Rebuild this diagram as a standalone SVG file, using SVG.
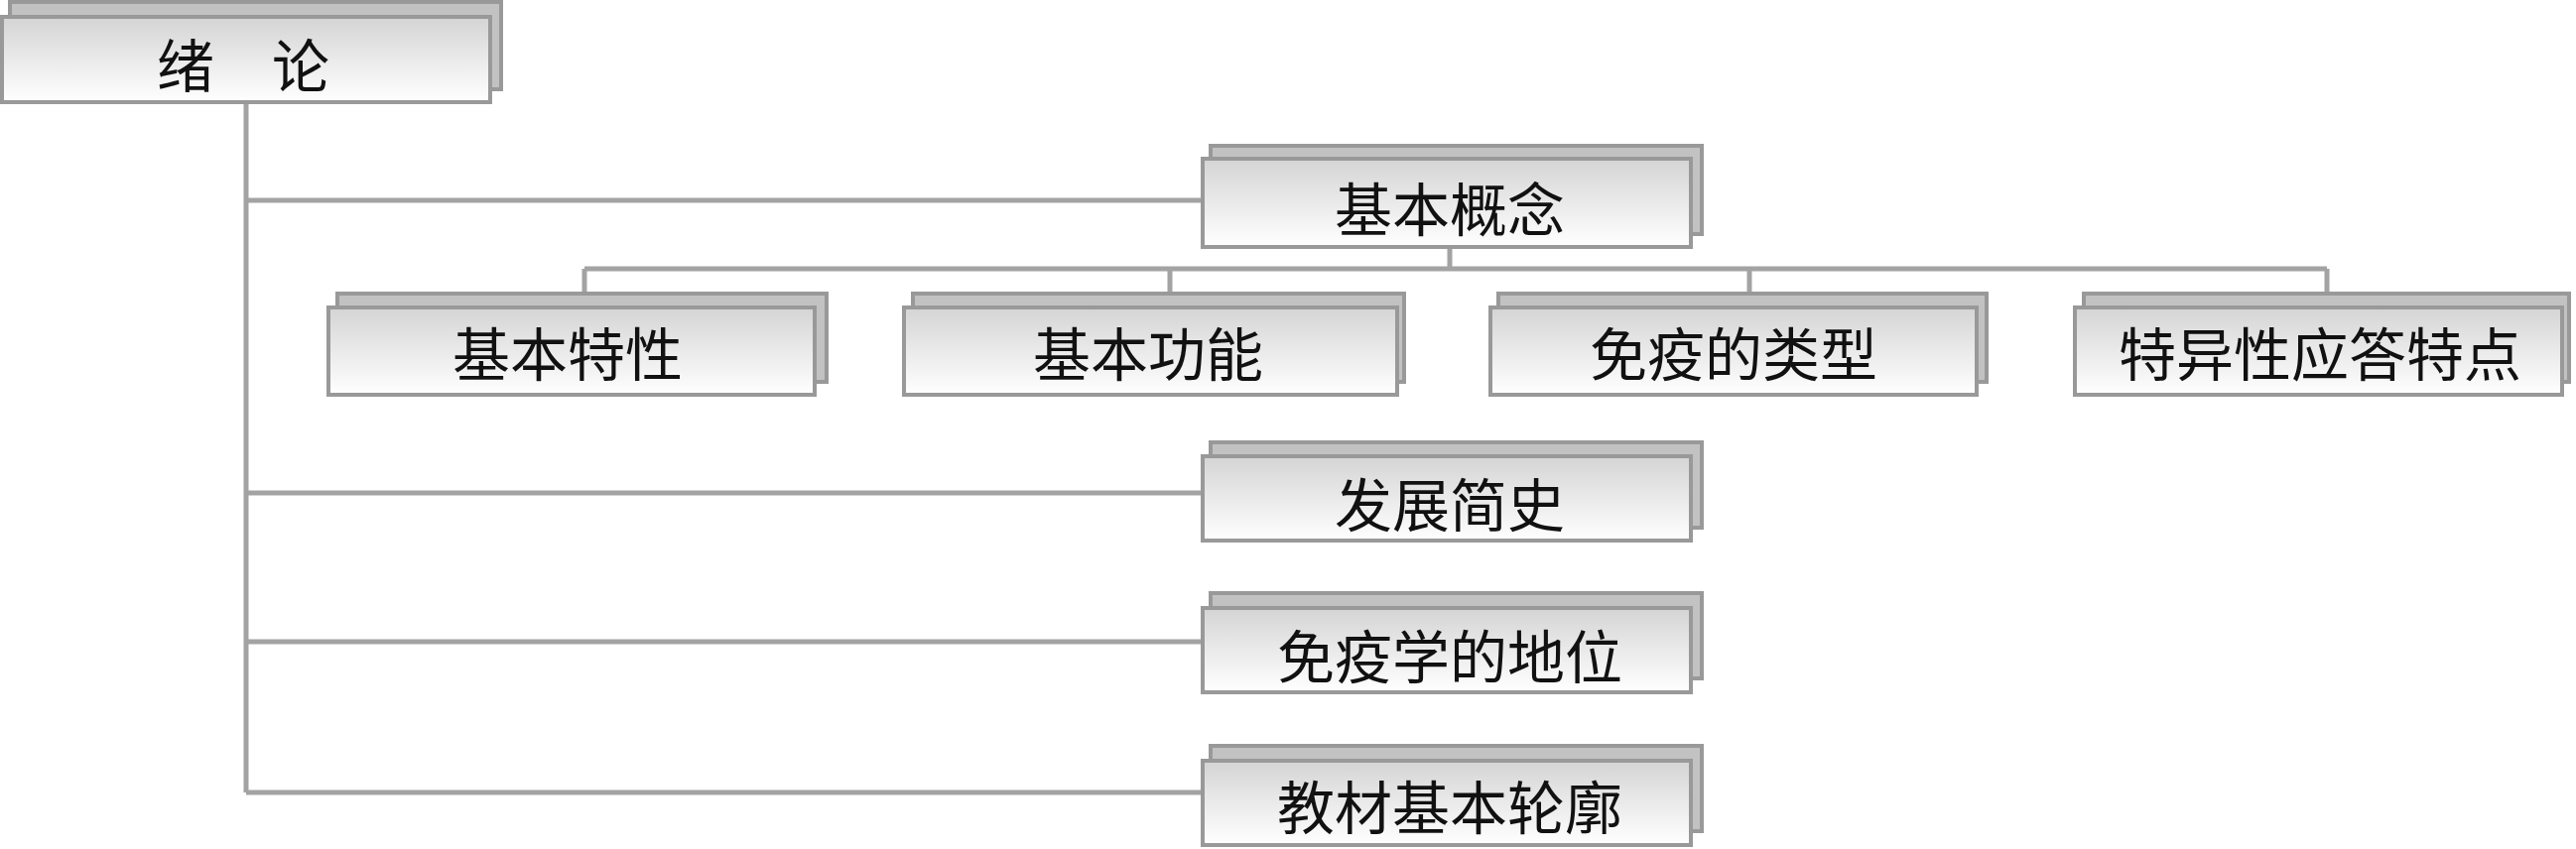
<svg xmlns="http://www.w3.org/2000/svg" width="2596" height="856" viewBox="0 0 2596 856">
<defs>
<linearGradient id="g" x1="0" y1="0" x2="0" y2="1">
<stop offset="0" stop-color="#d4d4d4"/>
<stop offset="0.55" stop-color="#ececec"/>
<stop offset="1" stop-color="#ffffff"/>
</linearGradient>
</defs>
<style>
.sh{fill:#c2c2c2;stroke:#999999;stroke-width:4}
.fr{fill:url(#g);stroke:#999999;stroke-width:4}
.t{font-family:"Noto Sans CJK SC","Noto Sans CJK TC",sans-serif;font-size:58px;fill:#111111;text-anchor:middle}
.c{fill:none;stroke:#a3a3a3;stroke-width:5}
</style>
<rect width="2596" height="856" fill="#ffffff"/>
<g id="connectors">
<path class="c" d="M248,105 V799"/>
<path class="c" d="M248,202 H1212"/>
<path class="c" d="M248,497 H1212"/>
<path class="c" d="M248,647 H1212"/>
<path class="c" d="M248,799 H1212"/>
<path class="c" d="M1461,251 V271"/>
<path class="c" d="M589,271 H2345"/>
<path class="c" d="M589,271 V296"/>
<path class="c" d="M1179,271 V296"/>
<path class="c" d="M1763,271 V296"/>
<path class="c" d="M2345,271 V296"/>
</g>
<g id="root">
<rect class="sh" x="10" y="2" width="495" height="88"/>
<rect class="fr" x="2" y="17" width="492" height="86"/>
<text class="t" x="245" y="88">绪　论</text>
</g>
<g id="jibengainian">
<rect class="sh" x="1220" y="147" width="495" height="89"/>
<rect class="fr" x="1212" y="160" width="492" height="89"/>
<text class="t" x="1461" y="233">基本概念</text>
</g>
<g id="jibentexing">
<rect class="sh" x="340" y="296" width="493" height="89"/>
<rect class="fr" x="331" y="310" width="490" height="88"/>
<text class="t" x="572" y="379">基本特性</text>
</g>
<g id="jibengongneng">
<rect class="sh" x="920" y="296" width="495" height="89"/>
<rect class="fr" x="911" y="310" width="497" height="88"/>
<text class="t" x="1157" y="379">基本功能</text>
</g>
<g id="mianyideleixing">
<rect class="sh" x="1510" y="296" width="492" height="89"/>
<rect class="fr" x="1502" y="310" width="490" height="88"/>
<text class="t" x="1747" y="379">免疫的类型</text>
</g>
<g id="teyixing">
<rect class="sh" x="2100" y="296" width="489" height="89"/>
<rect class="fr" x="2091" y="310" width="491" height="88"/>
<text class="t" x="2338" y="379">特异性应答特点</text>
</g>
<g id="fazhanjianshi">
<rect class="sh" x="1220" y="446" width="495" height="86"/>
<rect class="fr" x="1212" y="460" width="492" height="85"/>
<text class="t" x="1461" y="531">发展简史</text>
</g>
<g id="mianyixuedediwei">
<rect class="sh" x="1220" y="598" width="495" height="86"/>
<rect class="fr" x="1212" y="613" width="492" height="85"/>
<text class="t" x="1461" y="684">免疫学的地位</text>
</g>
<g id="jiaocai">
<rect class="sh" x="1220" y="752" width="495" height="86"/>
<rect class="fr" x="1212" y="767" width="492" height="85"/>
<text class="t" x="1461" y="836">教材基本轮廓</text>
</g>
</svg>
